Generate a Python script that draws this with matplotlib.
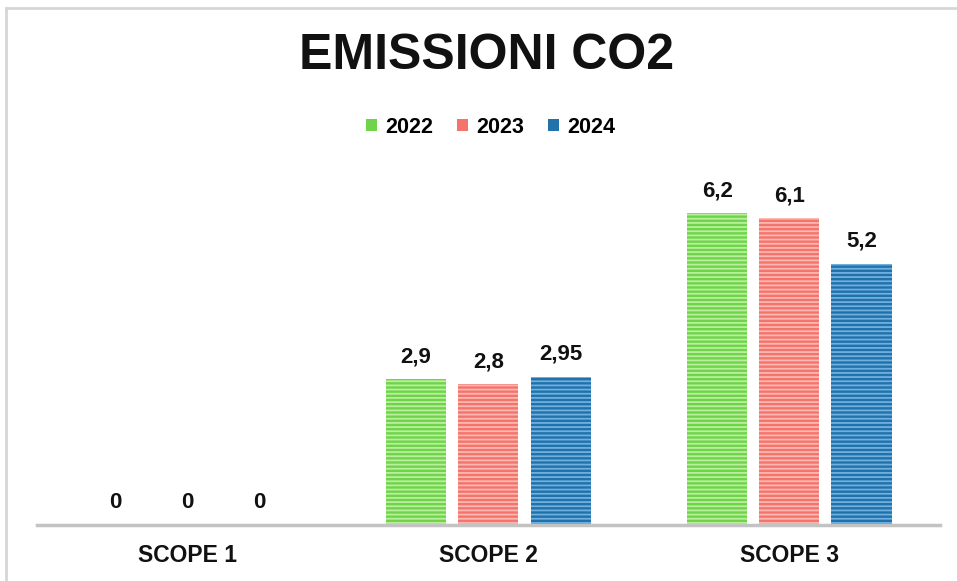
import matplotlib
matplotlib.use("Agg")
import matplotlib.pyplot as plt
from matplotlib.lines import Line2D
from matplotlib.patches import Patch
import numpy as np

categories = ["SCOPE 1", "SCOPE 2", "SCOPE 3"]
years = ["2022", "2023", "2024"]
values_2022 = [0, 2.9, 6.2]
values_2023 = [0, 2.8, 6.1]
values_2024 = [0, 2.95, 5.2]
labels_2022 = ["0", "2,9", "6,2"]
labels_2023 = ["0", "2,8", "6,1"]
labels_2024 = ["0", "2,95", "5,2"]

series = [values_2022, values_2023, values_2024]
series_labels = [labels_2022, labels_2023, labels_2024]
colors = ["#6fd34c", "#f4736b", "#2171ab"]
stripe_colors = ["#b9f09c", "#fcb8b2", "#6fb0df"]

plt.rcParams['font.family'] = ['Liberation Sans', 'DejaVu Sans']
plt.rcParams['hatch.linewidth'] = 1.3

fig = plt.figure(figsize=(9.57, 5.81), dpi=100)
ax = fig.add_axes([0.0387, 0.0964, 0.9433, 0.623])

x = np.arange(len(categories))
width = 0.2
offsets = [-0.24, 0, 0.24]
for i in range(3):
    ax.bar(x + offsets[i], series[i], width, color=colors[i],
           edgecolor=stripe_colors[i], linewidth=0, hatch='----')
    for xi, v, lab in zip(x + offsets[i], series[i], series_labels[i]):
        ax.text(xi, v + 0.24, lab, ha='center', va='bottom',
                fontsize=16, fontweight='bold', color='#111111')

ax.set_xlim(-0.5, 2.5)
ax.set_ylim(0, 7.2)
for s in ['top', 'right', 'left']:
    ax.spines[s].set_visible(False)
ax.spines['bottom'].set_color('#c3c3c3')
ax.spines['bottom'].set_linewidth(2.5)
ax.set_yticks([])
ax.set_xticks(x)
ax.set_xticklabels(categories, fontsize=16.5, fontweight='bold', color='#111111')
ax.tick_params(axis='x', length=0, pad=14)

fig.text(0.508, 0.903, "EMISSIONI CO2", ha='center', va='center',
         fontsize=36, fontweight='bold', color='#111111')

handles = [Patch(facecolor=c, edgecolor='none') for c in colors]
leg = fig.legend(handles, years, loc='center', bbox_to_anchor=(0.513, 0.781),
                 ncol=3, frameon=False, handlelength=0.5, handleheight=0.5,
                 handletextpad=0.4, columnspacing=1.1,
                 prop={'weight': 'bold', 'size': 15.5})

# outer frame lines
fig.add_artist(Line2D([6/957, 1.0], [1 - 8/581, 1 - 8/581], color='#d6d6d6', lw=2,
                      transform=fig.transFigure))
fig.add_artist(Line2D([6/957, 6/957], [0, 1 - 8/581], color='#d6d6d6', lw=2,
                      transform=fig.transFigure))

fig.savefig("out.png", dpi=100, facecolor='white')
